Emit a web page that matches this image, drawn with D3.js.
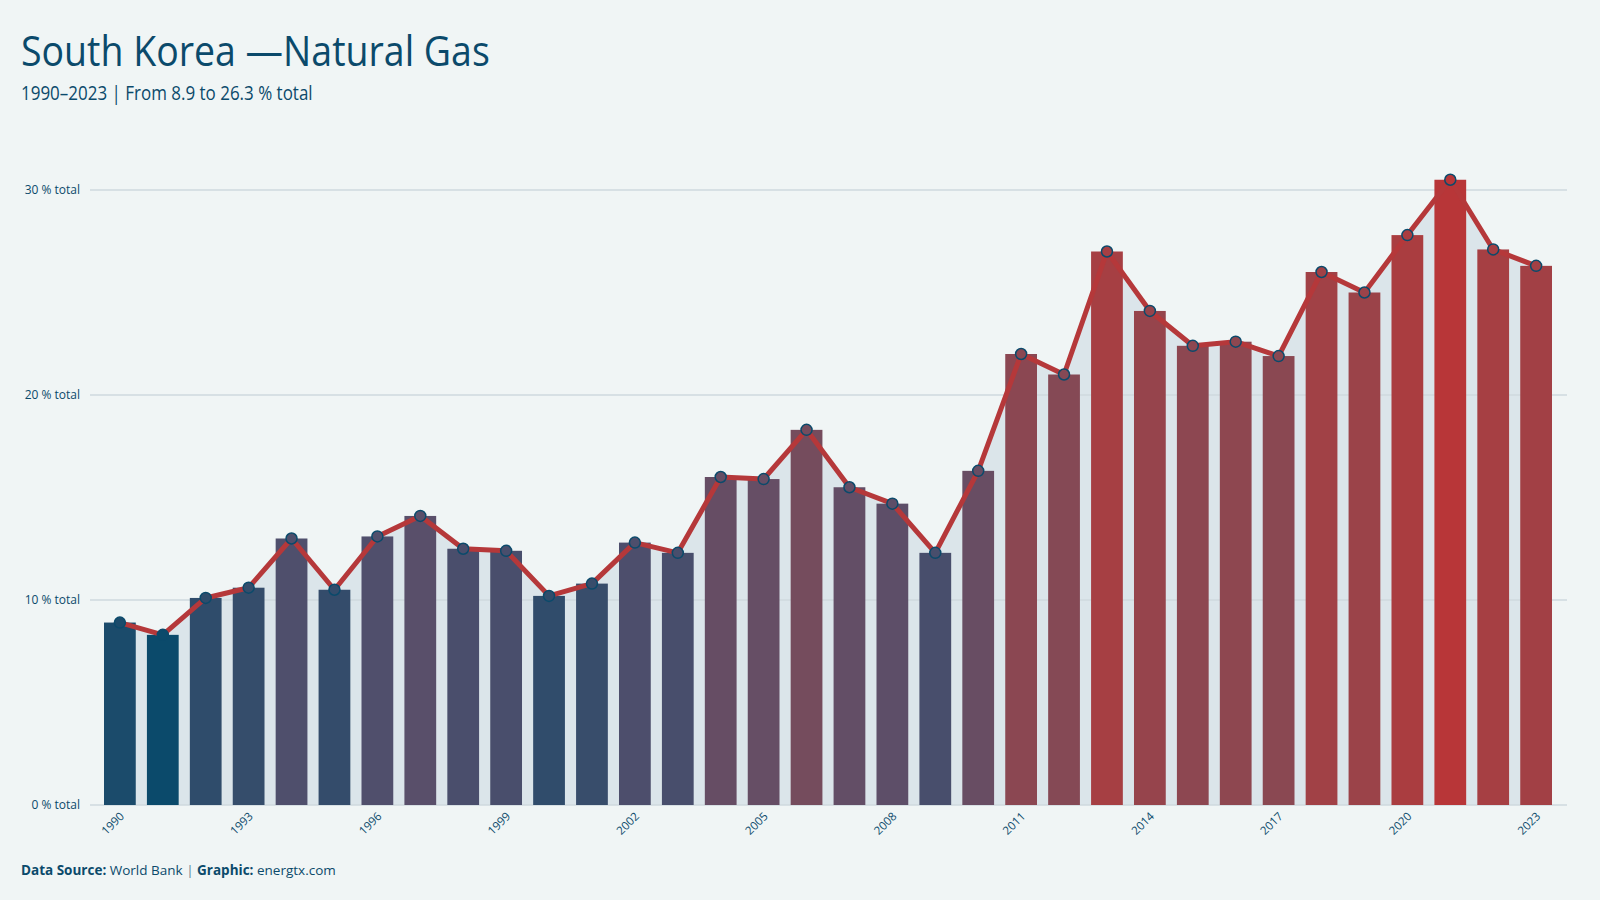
<!DOCTYPE html>
<html>
<head>
<meta charset="utf-8">
<script src="https://cdn.jsdelivr.net/npm/d3@7"></script>
<style>
  html, body { margin: 0; padding: 0; background: #f0f5f5; }
  svg { display: block; }
</style>
</head>
<body>
<svg id="chart" width="1600" height="900"></svg>
<script>
const years = [1990,1991,1992,1993,1994,1995,1996,1997,1998,1999,2000,2001,2002,2003,2004,2005,2006,2007,2008,2009,2010,2011,2012,2013,2014,2015,2016,2017,2018,2019,2020,2021,2022,2023];
const values = [8.9,8.3,10.1,10.6,13.0,10.5,13.1,14.1,12.5,12.4,10.2,10.8,12.8,12.3,16.0,15.9,18.3,15.5,14.7,12.3,16.3,22.0,21.0,27.0,24.1,22.4,22.6,21.9,26.0,25.0,27.8,30.5,27.1,26.3];
const yTicks = [0, 10, 20, 30];
const xTickYears = [1990,1993,1996,1999,2002,2005,2008,2011,2014,2017,2020,2023];
const titleText = "South Korea —Natural Gas";
const subtitleText = "1990–2023 | From 8.9 to 26.3 % total";

const data = years.map((y, i) => ({ year: y, value: values[i] }));
const svg = d3.select("#chart");
const ink = "#0b4a6b";

svg.append("rect").attr("width", 1600).attr("height", 900).attr("fill", "#f0f5f5");

const x = d3.scaleBand().domain(years).range([104, 1552]).paddingInner(0.26).paddingOuter(0);
const y = d3.scaleLinear().domain([0, 30]).range([805, 190]);
const vmin = d3.min(values), vmax = d3.max(values);
const color = d3.scaleLinear()
  .domain([vmin, 13.5, vmax])
  .range(["#0b4a6b", "#544f6c", "#b83638"])
  .interpolate(d3.interpolateLab);

const cx = d => x(d.year) + x.bandwidth() / 2;

// area under line
svg.append("path")
  .datum(data)
  .attr("fill", "#dbe5ea")
  .attr("d", d3.area().x(cx).y0(y(0)).y1(d => y(d.value)));

// gridlines
svg.append("g").selectAll("line").data(yTicks).join("line")
  .attr("x1", 90).attr("x2", 1567)
  .attr("y1", d => y(d)).attr("y2", d => y(d))
  .attr("stroke", "#cfd9de").attr("stroke-width", 1.5);

// y labels
svg.append("g").selectAll("text").data(yTicks).join("text")
  .attr("x", 80).attr("y", d => y(d)).attr("dy", "0.35em")
  .attr("text-anchor", "end")
  .attr("font-family", "Open Sans, Noto Sans, sans-serif")
  .attr("font-size", 12).attr("fill", ink)
  .text(d => d + " % total");

// bars
svg.append("g").selectAll("rect").data(data).join("rect")
  .attr("x", d => x(d.year)).attr("width", x.bandwidth())
  .attr("y", d => y(d.value)).attr("height", d => y(0) - y(d.value))
  .attr("fill", d => color(d.value));

// line
svg.append("path")
  .datum(data)
  .attr("fill", "none").attr("stroke", "#b5383a").attr("stroke-width", 5)
  .attr("stroke-linejoin", "round").attr("stroke-linecap", "round")
  .attr("d", d3.line().x(cx).y(d => y(d.value)));

// points
svg.append("g").selectAll("circle").data(data).join("circle")
  .attr("cx", cx).attr("cy", d => y(d.value)).attr("r", 5.5)
  .attr("fill", d => color(d.value)).attr("stroke", ink).attr("stroke-width", 1.5);

// x labels
svg.append("g").selectAll("text").data(xTickYears).join("text")
  .attr("transform", d => `translate(${x(d) + x.bandwidth() / 2 + 5},${817}) rotate(-45)`)
  .attr("text-anchor", "end")
  .attr("font-family", "Open Sans, Noto Sans, sans-serif")
  .attr("font-size", 11.5).attr("fill", ink)
  .text(d => d);

// title & subtitle (horizontally condensed to mimic a condensed face)
function condensed(xp, yp, size, target, txt) {
  const g = svg.append("g");
  const t = g.append("text").attr("x", 0).attr("y", 0)
    .attr("font-family", "Open Sans, Noto Sans, sans-serif")
    .attr("font-size", size).attr("fill", ink).text(txt);
  const w = t.node().getComputedTextLength();
  g.attr("transform", `translate(${xp},${yp}) scale(${target / w},1)`);
}
condensed(21, 66, 42, 469, titleText);
condensed(21, 100, 19.5, 292, subtitleText);

// footer
const foot = svg.append("text").attr("x", 21).attr("y", 875)
  .attr("font-family", "Open Sans, Noto Sans, sans-serif")
  .attr("font-size", 13.5).attr("fill", ink);
foot.append("tspan").attr("font-weight", "bold").text("Data Source:");
foot.append("tspan").text(" World Bank ");
foot.append("tspan").attr("fill", "#5a7f95").text("|");
foot.append("tspan").attr("font-weight", "bold").text(" Graphic:");
foot.append("tspan").text(" energtx.com");
</script>
</body>
</html>
